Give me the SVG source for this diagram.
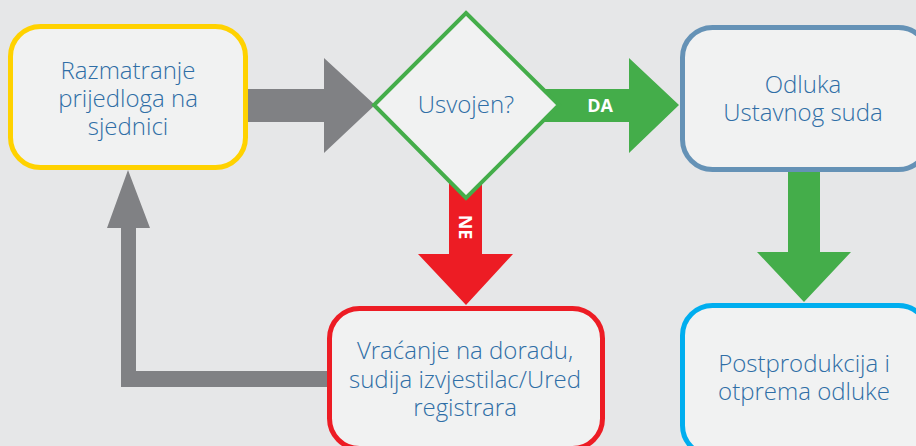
<svg xmlns="http://www.w3.org/2000/svg" width="916" height="446" viewBox="0 0 916 446">
<style>
.box{fill:#f1f2f2;stroke-width:5}
.t{font-family:"Open Sans","Liberation Sans",sans-serif;font-size:24px;font-weight:300;fill:#2f6ea6;text-anchor:middle}
.lbl{font-family:"Open Sans","Liberation Sans",sans-serif;font-size:18px;font-weight:bold;fill:#ffffff;text-anchor:middle}
</style>
<rect width="916" height="446" fill="#e6e7e8"/>
<g id="connectors">
<polygon id="c1" points="247,89 324,89 324,58 375,105 324,153 324,122 247,122" fill="#808184"/>
<polygon id="c2" points="530,89 629,89 629,58 679,105 629,153 629,122 530,122" fill="#44ad4a"/>
<text class="lbl" x="600" y="112">DA</text>
<polygon id="c3" points="449,180 482,180 482,254 513,254 466,305 418,254 449,254" fill="#ed1c24"/>
<text class="lbl" transform="translate(459,227) rotate(90)" x="0" y="0">NE</text>
<polygon id="c4" points="788,168 820,168 820,252 851,252 804,302 757,252 788,252" fill="#44ad4a"/>
<polygon id="c5" points="330,371 330,387 121,387 121,228 107,228 128,170 150,228 136,228 136,371" fill="#808184"/>
</g>
<g id="n1">
<rect class="box" x="10.5" y="26.5" width="235" height="141" rx="30" stroke="#ffd200"/>
<text class="t" x="128" y="79">Razmatranje</text>
<text class="t" x="128" y="107">prijedloga na</text>
<text class="t" x="128" y="135">sjednici</text>
</g>
<g id="n2">
<polygon points="466,13 559,105 466,198 374,105" fill="#f1f2f2" stroke="#44ad4a" stroke-width="4"/>
<text class="t" x="466" y="113">Usvojen?</text>
</g>
<g id="n3">
<rect class="box" x="682.5" y="27.5" width="246" height="142" rx="30" stroke="#6592b6"/>
<text class="t" x="803" y="93">Odluka</text>
<text class="t" x="803" y="121">Ustavnog suda</text>
</g>
<g id="n4">
<rect class="box" x="329.5" y="308.5" width="273" height="140" rx="30" stroke="#ed1c24"/>
<text class="t" x="465" y="359">Vraćanje na doradu,</text>
<text class="t" x="465" y="388">sudija izvjestilac/Ured</text>
<text class="t" x="465" y="416">registrara</text>
</g>
<g id="n5">
<rect class="box" x="682.5" y="305.5" width="246" height="150" rx="30" stroke="#00aeef"/>
<text class="t" x="804" y="372">Postprodukcija i</text>
<text class="t" x="804" y="400">otprema odluke</text>
</g>
</svg>
